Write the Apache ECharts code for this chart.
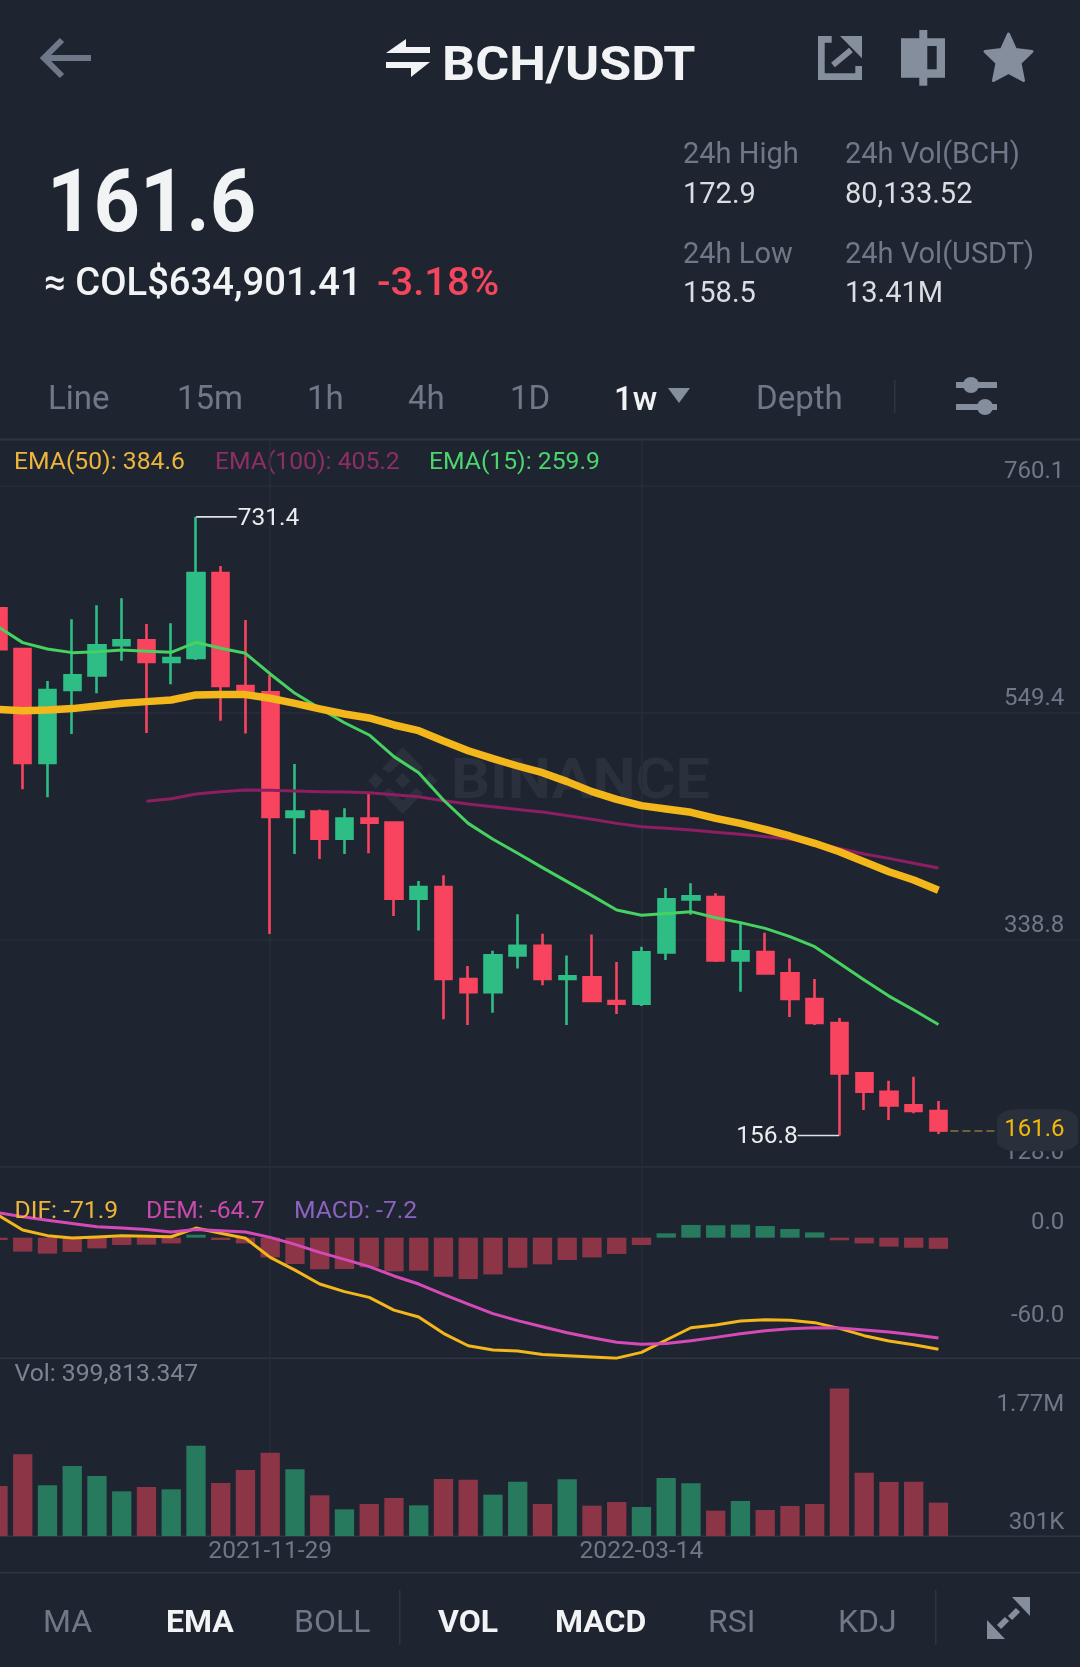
<!DOCTYPE html>
<html>
<head>
<meta charset="utf-8">
<style>html,body{margin:0;padding:0;background:#1F2530}#c{width:1080px;height:1667px}</style>
<script src="https://cdn.jsdelivr.net/npm/echarts@6/dist/echarts.min.js"></script>
</head>
<body>
<div id="c"></div>
<script>
const dates = ['2021-09-13','2021-09-20','2021-09-27','2021-10-04','2021-10-11','2021-10-18','2021-10-25','2021-11-01','2021-11-08','2021-11-15','2021-11-22','2021-11-29','2021-12-06','2021-12-13','2021-12-20','2021-12-27','2022-01-03','2022-01-10','2022-01-17','2022-01-24','2022-01-31','2022-02-07','2022-02-14','2022-02-21','2022-02-28','2022-03-07','2022-03-14','2022-03-21','2022-03-28','2022-04-04','2022-04-11','2022-04-18','2022-04-25','2022-05-02','2022-05-09','2022-05-16','2022-05-23','2022-05-30','2022-06-06','2022-06-13','2022-06-20','2022-06-27','2022-07-04','2022-07-11','2022-07-18'];
const opens  = [646.5,608.7,502.8,570.6,584.2,612.1,616.7,596.6,600.3,679.3,574.3,568.4,452.6,457.6,432.5,451.1,447.4,376.8,387.6,302.2,289.8,324.1,333.1,302.2,303.7,281.7,279.2,326.9,376.1,378.3,319.5,327.2,307.4,283.6,261.3,214.5,197.5,184.8,179.5];
const closes = [608.4,502.8,570.6,584.2,612.1,616.7,596.6,600.3,679.3,574.3,568.4,452.6,457.6,432.5,451.1,447.4,376.8,387.6,302.2,289.8,324.1,333.1,302.2,304.6,281.7,279.2,326.9,376.1,378.9,319.5,327.8,307.4,283.6,261.3,214.5,197.5,184.8,179.5,161.6];
const lows   = [600.0,478.3,470.9,529.7,567.5,597.8,530.6,575.9,598.5,542.1,530.3,343.9,418.3,413.6,418.3,418.9,360.6,347.1,264.7,259.4,270.9,311.8,296.3,259.4,281.1,269.6,277.1,319.8,361.9,317.9,290.4,306.8,266.8,259.4,156.8,180.4,171.2,177.4,158.2];
const highs  = [660.0,609.0,579.0,636.2,649.2,655.7,631.9,632.5,731.4,685.8,635.6,584.5,501.8,459.7,460.7,474.6,447.6,393.2,398.5,314.2,328.5,362.2,344.3,324.1,343.6,317.9,332.2,386.7,391.0,381.7,355.4,345.2,321.3,302.1,265.9,215.1,207.7,211.4,188.8];
const ema15  = [629.4,614.6,608.7,605.3,606.2,607.8,606.5,605.6,614.9,609.3,604.7,585.5,567.5,553.6,540.2,528.8,508.7,493.8,468.4,446.7,431.9,418.9,405.6,392.6,379.6,366.2,361.3,363.1,364.7,359.1,354.5,349.2,341.5,332.2,316.7,301.2,286.3,273.3,259.9];
const ema50  = [552.6,551.4,552.0,553.3,555.7,558.2,559.8,561.3,566.0,566.3,566.3,562.9,558.2,553.0,548.3,544.6,538.1,532.8,523.2,514.2,506.8,500.0,493.8,485.5,476.2,469.0,463.2,460.1,457.0,451.4,446.7,441.2,435.0,428.2,420.4,411.1,401.8,394.1,384.6];
const ema100 = [null,null,null,null,null,null,467.2,469.6,474.0,476.1,477.7,477.4,476.8,476.1,475.8,475.2,473.4,471.5,467.8,464.7,462.2,459.7,457.3,453.9,450.5,446.7,443.6,442.1,440.6,438.4,436.5,434.4,431.9,428.8,423.5,418.3,414.2,409.6,405.2];
const dif    = [14.6,4.9,1.3,-0.2,0.4,1.3,0.9,0.6,6.2,2.8,-0.4,-12.7,-20.9,-29.9,-34.8,-38.5,-46.7,-51.2,-61.7,-69.7,-72.5,-73.1,-75.3,-76.1,-77.0,-77.7,-74.0,-66.0,-58.1,-56.3,-53.8,-52.9,-53.3,-54.8,-58.5,-63.2,-66.7,-69.0,-71.9];
const dem    = [16.1,13.5,11.2,9.2,7.1,6.2,5.2,3.7,5.2,4.5,3.7,0.2,-4.3,-9.5,-14.0,-18.7,-24.7,-29.9,-36.6,-42.8,-49.0,-53.5,-57.4,-61.3,-64.5,-67.5,-68.8,-68.2,-66.5,-64.3,-61.9,-60.0,-58.7,-58.1,-58.3,-59.6,-60.9,-62.6,-64.7];
const macd   = [-1.5,-9.0,-10.3,-9.2,-6.9,-4.7,-4.5,-3.7,1.9,-1.5,-3.7,-12.7,-17.0,-20.4,-20.2,-19.1,-21.7,-21.3,-25.2,-26.7,-23.7,-19.4,-17.2,-14.4,-12.7,-10.5,-4.7,2.8,8.2,8.0,8.4,7.5,5.6,3.4,-1.7,-3.7,-5.8,-6.5,-7.2];
const volumes= [600000,980000,608000,840000,720000,536000,588000,560000,1084000,636000,792000,1000000,800000,488000,320000,384000,456000,368000,684000,676000,496000,652000,384000,680000,364000,408000,348000,696000,632000,304000,420000,312000,360000,384000,1770000,760000,648000,652000,399813];
const priceTicks = [128.0,338.8,549.4,760.1];
const macdTicks = [-60,0];
const volTicks = [301000,1770000];
const dateLabels = ['2021-11-29','2022-03-14'];
const lastPrice = 161.6, highMark = 731.4, lowMark = 156.8;

const BG='#1F2530', MUTED='#6F7888', ICON='#848E9C', LIGHT='#DADDE2', WHITE='#F2F3F5';
const UP='#2EBD85', DOWN='#F8445F', UPV='#277A5E', DOWNV='#8C3547', YEL='#F3B71B', GRID='#272E39', SEP='#2E3542';
const FONT='Roboto';

function T(text,x,y,size,fill,weight,opt){
  opt=opt||{};
  return {type:'text',x:x,y:y,scaleX:opt.sx||1,z:opt.z||0,style:{text:text,fill:fill,font:(weight||400)+' '+size+'px '+FONT,textAlign:opt.align||'left',textVerticalAlign:'middle'}};
}
function P(points,fill){return {type:'polygon',shape:{points:points},style:{fill:fill||ICON}};}
function R(x,y,w,h,fill,r){return {type:'rect',shape:{x:x,y:y,width:w,height:h,r:r||0},style:{fill:fill}};}
function L(points,stroke,w){return {type:'polyline',shape:{points:points},style:{stroke:stroke,lineWidth:w,fill:null,lineJoin:'miter'}};}

const WM='#2A303C';
const graphics=[
  // watermark
  P([[402.7,747.3],[423.3,768.3],[416,773.3],[402.7,760.7],[389.3,773.3],[382,768.3]],WM),
  P([[402.7,814],[423.3,793],[416,788],[402.7,800.7],[389.3,788],[382,793]],WM),
  P([[402.7,773],[410.4,780.7],[402.7,788.4],[395,780.7]],WM),
  P([[375.7,773],[383.4,780.7],[375.7,788.4],[368,780.7]],WM),
  P([[429.7,773],[437.4,780.7],[429.7,788.4],[422,780.7]],WM),
  T('BINANCE',451,784,55,WM,700,{sx:1.11}),
  // header icons
  L([[62,40],[44,58],[62,76]],MUTED,6), L([[44,58],[91,58]],MUTED,6),
  P([[406,39],[406,47],[430,47],[430,53],[386,53]],WHITE),
  P([[386,62],[430,62],[411,77],[411,68],[386,68]],WHITE),
  T('BCH/USDT',442,68,49,WHITE,700,{sx:1.06}),
  P([[818,36],[831.7,36],[831.7,42.7],[824.7,42.7],[824.7,73.3],[855.3,73.3],[855.3,66],[862,66],[862,80],[818,80]]),
  P([[840,36],[862,36],[862,58.3]]), L([[851,50],[833,65]],ICON,6),
  R(901,38.3,44,39.4,ICON), R(919.3,30,8,55.7,ICON), R(927.3,46,9.4,23.3,BG),
  {type:'polygon',shape:{points:[[1008.5,34],[1015.5,49.5],[1032,51.5],[1020,63],[1023.5,80.5],[1008.5,72.5],[993.5,80.5],[997,63],[985,51.5],[1001.5,49.5]]},style:{fill:ICON,stroke:ICON,lineWidth:3,lineJoin:'round'}},
  // price block
  T('161.6',47,209,88,WHITE,700,{sx:0.92}),
  T('≈ COL$634,901.41',44,285,38,WHITE,500,{sx:1.005}),
  T('-3.18%',377,285,38,'#F6465D',500,{sx:1.05}),
  T('24h High',683,156,29,MUTED), T('172.9',683,196,29,LIGHT),
  T('24h Low',683,256,29,MUTED), T('158.5',683,295,29,LIGHT),
  T('24h Vol(BCH)',845,156,29,MUTED), T('80,133.52',845,196,29,LIGHT),
  T('24h Vol(USDT)',845,256,29,MUTED), T('13.41M',845,295,29,LIGHT),
  // period tabs
  T('Line',48,401,33,MUTED), T('15m',177,401,33,MUTED), T('1h',307,401,33,MUTED), T('4h',408,401,33,MUTED), T('1D',510,401,33,MUTED),
  T('1w',614,402,33,WHITE,500), P([[668,388],[690,388],[679,403]]),
  T('Depth',756,401,33,MUTED), R(894,380,1.5,33,SEP),
  R(956,382,41,6,ICON), R(956,404,41,6,ICON),
  {type:'circle',shape:{cx:971,cy:385,r:8},style:{fill:ICON}},
  {type:'circle',shape:{cx:985,cy:407,r:8},style:{fill:ICON}},
  // separators
  R(0,438.5,1080,2,SEP), R(0,1166,1080,1.5,SEP), R(0,1357.5,1080,1.5,SEP), R(0,1535.5,1080,1.5,SEP), R(0,1572,1080,1.5,SEP),
  // legends
  T('EMA(50): 384.6',14,463,24.7,'#EDB53C'), T('EMA(100): 405.2',215,463,24.7,'#8F2D66'), T('EMA(15): 259.9',429,463,24.7,'#4CD46E'),
  T('DIF: -71.9',14.5,1212,24.7,'#EDB53C',400,{z:5}), T('DEM: -64.7',146,1212,24.7,'#C84AAE',400,{z:5}), T('MACD: -7.2',294,1212,24.7,'#8C62C0',400,{z:5}),
  T('Vol: 399,813.347',14.5,1375,24.7,'#7A8594'),
  // bottom tabs
  T('MA',43,1624,32,MUTED), T('EMA',166,1624,32,WHITE,700), T('BOLL',294,1624,32,MUTED), R(399,1590,1.5,55,SEP),
  T('VOL',438,1624,32,WHITE,700), T('MACD',555,1624,32,WHITE,700), T('RSI',708,1624,32,MUTED), T('KDJ',838,1624,32,MUTED), R(935,1590,1.5,55,SEP),
  P([[1012,1597],[1030,1597],[1030,1616]]), L([[1018,1610],[1010,1618]],ICON,6),
  P([[987,1620],[987,1639],[1005,1639]]), L([[999,1627],[1007,1619]],ICON,6)
];

const dir = i => closes[i] > opens[i];
const vertical = dateLabels.map(d => ({xAxis:d}));
const gridLeft=-14.4, gridW=45*24.749;
const grids=[
  {left:gridLeft,width:gridW,top:440,height:726.5,outerBoundsMode:'none'},
  {left:gridLeft,width:gridW,top:1166.5,height:191.8,outerBoundsMode:'none'},
  {left:gridLeft,width:gridW,top:1358.3,height:177.7,outerBoundsMode:'none'}
];
const xAxes=[0,1,2].map(i=>({
  type:'category',gridIndex:i,data:dates,boundaryGap:true,
  axisLine:{show:false},axisTick:{show:false},splitLine:{show:false},
  axisLabel: i===2 ? {show:true,interval:(idx,val)=>dateLabels.includes(val),color:MUTED,fontFamily:FONT,fontSize:24.5,margin:3,hideOverlap:false} : {show:false}
}));
function yAxis(i,min,max,ticks,fmt,va,pad,rich){
  return {type:'value',gridIndex:i,position:'right',min:min,max:max,
    axisLine:{show:false},axisTick:{show:false},splitLine:{show:false},
    axisLabel:{show:true,inside:true,margin:35,customValues:ticks,formatter:fmt,color:MUTED,fontFamily:FONT,fontSize:24,verticalAlign:va,padding:pad,showMinLabel:true,showMaxLabel:true,hideOverlap:false,rich:rich}};
}
const volFmt=v=>v>=1e6?'{hi|'+(v/1e6).toFixed(2)+'M}':'{lo|'+Math.round(v/1e3)+'K}';
const volRich={hi:{color:MUTED,fontFamily:FONT,fontSize:24,padding:[5,0,0,0]},lo:{color:MUTED,fontFamily:FONT,fontSize:24,padding:[0,0,0,0]}};
const line=(name,data,xi,color,width,z)=>({name:name,type:'line',xAxisIndex:xi,yAxisIndex:xi,data:data,symbol:'none',showSymbol:false,smooth:false,z:z||3,lineStyle:{color:color,width:width,cap:'butt',join:'round'},connectNulls:false});
const gridMark=(extra)=>({silent:true,symbol:'none',z:1,label:{show:false},lineStyle:{color:GRID,width:1.5,type:'solid'},data:vertical.concat(extra||[])});

const option={
  animation:false,backgroundColor:BG,
  graphic:{elements:graphics},
  grid:grids,xAxis:xAxes,
  yAxis:[
    yAxis(0,128,802.8,priceTicks,v=>v.toFixed(1),'bottom',[0,0,2,0]),
    yAxis(1,-77.8,45.9,macdTicks,v=>v.toFixed(1),'bottom',[0,0,3,0]),
    yAxis(2,0,2132000,volTicks,volFmt,'top',[0,0,0,0],volRich)
  ],
  series:[
    {type:'candlestick',name:'BCH/USDT',xAxisIndex:0,yAxisIndex:0,z:2,barWidth:16.8,
     data:opens.map((o,i)=>[o,closes[i],lows[i],highs[i]]),
     itemStyle:{color:UP,color0:DOWN,borderColor:UP,borderColor0:DOWN,borderWidth:2.6},
     markLine:{silent:true,symbol:'none',z:1,label:{show:false},lineStyle:{color:GRID,width:1.5,type:'solid'},
       data:vertical.concat(priceTicks.map(v=>({yAxis:v}))).concat([[
         {coord:['2022-06-06',lastPrice],lineStyle:{color:'#6E6238',width:2,type:'dashed'}},
         {coord:['2022-06-27',lastPrice]}
       ]])},
     markPoint:{z:6,silent:true,data:[
       {coord:['2021-11-08',highMark],symbol:'rect',symbolSize:[40.5,1.6],symbolOffset:[20.5,0],itemStyle:{color:'#DDE0E4'},
        label:{show:true,position:'right',distance:1,offset:[0,2],formatter:highMark.toFixed(1),color:'#EAECEF',fontFamily:FONT,fontSize:24.5}},
       {coord:['2022-05-09',lowMark],symbol:'rect',symbolSize:[41.5,1.6],symbolOffset:[-21,0],itemStyle:{color:'#DDE0E4'},
        label:{show:true,position:'left',distance:1,offset:[1,1],formatter:lowMark.toFixed(1),color:'#EAECEF',fontFamily:FONT,fontSize:24.5}},
       {coord:['2022-07-04',lastPrice],symbol:'roundRect',symbolSize:[81,42],itemStyle:{color:'#2A303B'},
        label:{show:true,position:'inside',offset:[-3,0],formatter:lastPrice.toFixed(1),color:'#F0B90B',fontFamily:FONT,fontSize:24}}
     ]}},
    line('EMA(100)',ema100,0,'#8E1E62',3,3),
    line('EMA(15)',ema15,0,'#46D160',3,3),
    line('EMA(50)',ema50,0,YEL,7.5,4),
    {type:'bar',name:'MACD',xAxisIndex:1,yAxisIndex:1,barWidth:19.3,z:2,data:macd,
     itemStyle:{color:p=>p.value>=0?UPV:DOWNV},markLine:gridMark()},
    line('DIF',dif,1,YEL,3,3),
    line('DEM',dem,1,'#D64AB8',3,4),
    {type:'bar',name:'Vol',xAxisIndex:2,yAxisIndex:2,barWidth:19.3,z:2,data:volumes,
     itemStyle:{color:p=>dir(p.dataIndex)?UPV:DOWNV},markLine:gridMark()}
  ]
};
const chart=echarts.init(document.getElementById('c'),null,{renderer:'canvas',width:1080,height:1667});
chart.setOption(option);
</script>
</body>
</html>
